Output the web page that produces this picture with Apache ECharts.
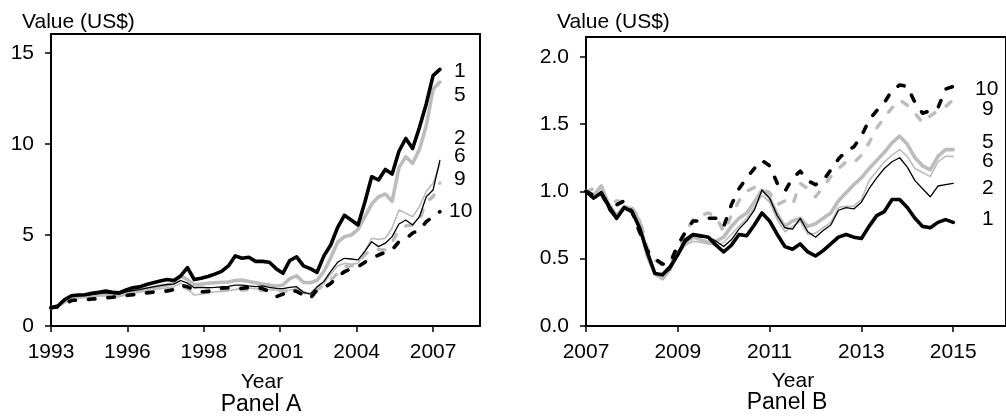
<!DOCTYPE html>
<html>
<head>
<meta charset="utf-8">
<script src="https://cdn.jsdelivr.net/npm/echarts@6/dist/echarts.min.js"></script>
<style>
  html, body { margin: 0; padding: 0; background: #fff; }
  #chart { width: 1006px; height: 418px; }
</style>
</head>
<body>
<div id="chart"></div>
<script>
// Panel A: quarterly values, 1993 Q1 .. 2007 Q2
const panelA_1  = [1.00,1.10,1.45,1.66, 1.70,1.72,1.80,1.85, 1.92,1.85,1.82,1.98, 2.10,2.15,2.28,2.38, 2.47,2.55,2.50,2.75, 3.20,2.55,2.62,2.72, 2.85,3.00,3.30,3.85, 3.72,3.78,3.55,3.55, 3.50,3.15,2.90,3.60, 3.80,3.30,3.15,2.95, 3.85,4.45,5.40,6.08, 5.82,5.55,6.80,8.20, 8.02,8.60,8.35,9.60, 10.30,9.75,10.90,12.20, 13.75,14.10];
const panelA_2  = [1.00,1.10,1.40,1.62, 1.65,1.68,1.72,1.78, 1.82,1.78,1.75,1.88, 1.95,2.00,2.08,2.15, 2.22,2.28,2.30,2.50, 2.35,2.10,2.12,2.10, 2.12,2.15,2.18,2.25, 2.25,2.20,2.16,2.20, 2.12,2.07,2.05,2.12, 2.16,1.85,1.75,2.15, 2.45,3.00,3.50,3.72, 3.68,3.63,4.10,4.63, 4.36,4.55,4.91,5.60, 5.82,5.55,6.00,7.10, 7.47,9.10];
const panelA_5  = [1.00,1.08,1.35,1.55, 1.58,1.62,1.66,1.70, 1.72,1.68,1.66,1.80, 1.92,1.98,2.05,2.12, 2.20,2.25,2.35,2.75, 2.55,2.25,2.30,2.35, 2.38,2.40,2.42,2.50, 2.52,2.45,2.38,2.30, 2.25,2.18,2.25,2.60, 2.75,2.40,2.38,2.50, 3.00,3.75,4.60,4.90, 5.00,5.30,6.00,6.70, 7.10,7.25,6.85,8.70, 9.30,8.94,9.70,11.00, 13.00,13.40];
const panelA_6  = [1.00,1.08,1.32,1.52, 1.55,1.58,1.60,1.65, 1.68,1.65,1.62,1.72, 1.80,1.85,1.92,1.98, 2.05,2.10,2.15,2.35, 2.05,1.70,1.75,1.82, 1.88,1.90,1.95,2.00, 2.07,2.08,2.05,2.02, 2.00,1.98,1.95,1.98, 2.05,1.85,1.80,2.10, 2.35,2.85,3.30,3.44, 3.40,3.44,4.10,4.82, 4.75,4.82,5.40,6.37, 6.20,6.00,6.55,7.40, 7.84,8.90];
const panelA_9  = [1.00,1.06,1.28,1.45, 1.48,1.50,1.55,1.58, 1.60,1.58,1.58,1.65, 1.72,1.78,1.85,1.90, 1.95,2.00,2.05,2.20, 2.05,1.80,1.82,1.88, 1.92,1.95,1.98,2.00, 1.98,2.00,1.98,1.95, 1.95,1.98,1.90,1.92, 1.98,1.85,1.70,1.98, 2.25,2.53,2.90,3.26, 3.30,3.50,3.90,4.25, 4.20,4.18,4.60,5.27, 5.50,5.55,5.82,6.83, 7.10,7.85];
const panelA_10 = [1.00,1.05,1.22,1.40, 1.43,1.45,1.48,1.50, 1.55,1.58,1.62,1.68, 1.72,1.76,1.82,1.86, 1.88,1.92,2.00,2.25, 2.15,2.00,1.88,1.90, 2.00,2.08,2.10,2.05, 2.07,2.12,2.16,2.05, 1.90,1.61,1.75,1.98, 1.90,1.70,1.52,1.98, 2.10,2.34,2.70,2.98, 3.15,3.26,3.50,3.72, 3.90,4.05,4.18,4.63, 4.80,5.10,5.27,5.73, 6.00,6.28];

// Panel B: bi-monthly values, 2007 .. 2015
const panelB_1  = [1.00,0.95,0.99,0.89,0.80,0.88,0.85,0.73,0.55,0.39,0.38,0.44,0.53,0.64,0.68,0.67,0.66,0.60,0.55,0.60,0.68,0.67,0.75,0.84,0.78,0.68,0.59,0.57,0.61,0.55,0.52,0.56,0.61,0.66,0.68,0.66,0.65,0.74,0.82,0.85,0.94,0.94,0.88,0.80,0.74,0.73,0.77,0.79,0.77];
const panelB_2  = [1.00,0.95,1.00,0.86,0.79,0.87,0.86,0.74,0.54,0.39,0.38,0.42,0.52,0.62,0.67,0.66,0.66,0.63,0.59,0.64,0.72,0.78,0.86,1.01,0.95,0.82,0.73,0.72,0.80,0.70,0.66,0.71,0.75,0.86,0.88,0.87,0.92,1.02,1.10,1.17,1.22,1.25,1.18,1.08,1.02,0.96,1.04,1.05,1.06];
const panelB_5  = [1.00,0.97,1.04,0.90,0.82,0.89,0.87,0.78,0.52,0.39,0.35,0.42,0.54,0.62,0.66,0.64,0.62,0.63,0.66,0.74,0.80,0.84,0.92,1.01,0.95,0.83,0.74,0.78,0.80,0.74,0.76,0.80,0.84,0.93,0.99,1.05,1.10,1.17,1.23,1.29,1.36,1.41,1.35,1.25,1.19,1.16,1.26,1.31,1.31];
const panelB_6  = [1.00,0.96,1.03,0.88,0.80,0.87,0.86,0.75,0.53,0.39,0.36,0.42,0.52,0.60,0.63,0.62,0.61,0.60,0.62,0.68,0.74,0.80,0.88,0.97,0.92,0.79,0.70,0.74,0.78,0.68,0.69,0.73,0.77,0.88,0.89,0.89,0.94,1.08,1.15,1.22,1.27,1.31,1.26,1.17,1.14,1.11,1.22,1.26,1.26];
const panelB_9  = [1.00,1.02,1.00,0.90,0.93,0.92,0.88,0.80,0.58,0.49,0.45,0.47,0.55,0.70,0.79,0.82,0.84,0.81,0.70,0.82,0.93,1.00,1.03,1.02,0.99,0.90,0.93,0.90,1.06,1.02,0.96,1.03,1.11,1.17,1.22,1.21,1.27,1.36,1.47,1.55,1.62,1.68,1.64,1.58,1.51,1.56,1.60,1.63,1.68];
const panelB_10 = [1.00,0.97,0.98,0.89,0.90,0.93,0.85,0.70,0.56,0.50,0.46,0.47,0.60,0.70,0.78,0.78,0.80,0.80,0.74,0.90,1.02,1.10,1.17,1.23,1.19,1.06,1.00,1.10,1.15,1.08,1.05,1.08,1.16,1.24,1.30,1.33,1.41,1.53,1.60,1.66,1.75,1.79,1.78,1.66,1.58,1.60,1.62,1.76,1.78];

// time stamps of the samples
const yearsA = panelA_1.map((_, i) => 1993 + i / 4);
const yearsB = panelB_1.map((_, i) => 2007 + i / 6);

// tick positions and labels
const xTicksA = [1993, 1995.8, 1998.6, 2001.4, 2004.2, 2007.0];
const xLabelsA = ['1993', '1996', '1998', '2001', '2004', '2007'];
const yTicksA = [0, 5, 10, 15];
const xTicksB = [2007, 2009, 2011, 2013, 2015];
const yTicksB = [0, 0.5, 1.0, 1.5, 2.0];

const GRAY = '#bcbcbc';
const FONT = "'Liberation Sans', Arial, sans-serif";

const styles = {
  '1':  {color: '#000', width: 3.6, type: 'solid', z: 6},
  '2':  {color: '#000', width: 1.3, type: 'solid', z: 5},
  '5':  {color: GRAY, width: 3.6, type: 'solid', z: 3},
  '6':  {color: GRAY, width: 1.6, type: 'solid', z: 2},
  '9':  {color: GRAY, width: 3.4, type: [6.5, 13], z: 1},
  '10': {color: '#000', width: 3.6, type: [6.5, 13], z: 4}
};

function mkSeries(name, years, vals, idx) {
  const s = styles[name];
  return {
    name: name + (idx ? 'B' : 'A'),
    type: 'line',
    xAxisIndex: idx,
    yAxisIndex: idx,
    data: years.map((t, i) => [t, vals[i]]),
    showSymbol: false,
    symbol: 'none',
    z: s.z,
    lineStyle: {color: s.color, width: s.width, type: s.type, cap: 'round', join: 'round'},
    animation: false
  };
}

function mkX(idx, min, max, ticks, fmt) {
  return {
    type: 'value', gridIndex: idx, min: min, max: max,
    axisLine: {show: true, onZero: false, lineStyle: {color: '#000', width: 2}},
    axisTick: {show: true, customValues: ticks, length: 6, lineStyle: {color: '#000', width: 1.5}},
    axisLabel: {customValues: ticks, formatter: fmt, margin: 16, fontSize: 21, color: '#000', fontFamily: FONT},
    splitLine: {show: false}
  };
}

function mkY(idx, max, ticks, fmt) {
  return {
    type: 'value', gridIndex: idx, min: 0, max: max,
    axisLine: {show: true, onZero: false, lineStyle: {color: '#000', width: 2}},
    axisTick: {show: true, customValues: ticks, length: 6, lineStyle: {color: '#000', width: 1.5}},
    axisLabel: {customValues: ticks, formatter: fmt, margin: 17, fontSize: 21, color: '#000', fontFamily: FONT},
    splitLine: {show: false}
  };
}

function txt(text, x, y, align, size) {
  return {
    type: 'text', x: x, y: y, silent: true,
    style: {text: text, fill: '#000', font: (size || 21) + 'px ' + FONT, textAlign: align || 'left', textVerticalAlign: 'middle'}
  };
}

const chart = echarts.init(document.getElementById('chart'), null, {renderer: 'canvas'});

const option = {
  animation: false,
  backgroundColor: '#fff',
  textStyle: {fontFamily: FONT},
  grid: [
    {left: 51, top: 34, width: 429, height: 292, show: true, borderColor: '#000', borderWidth: 2},
    {left: 586, top: 37, width: 440, height: 289, show: true, borderColor: '#000', borderWidth: 2}
  ],
  xAxis: [
    mkX(0, 1993, 2008.72, xTicksA, v => {
      let best = 0;
      xTicksA.forEach((t, i) => { if (Math.abs(t - v) < Math.abs(xTicksA[best] - v)) best = i; });
      return xLabelsA[best];
    }),
    mkX(1, 2007, 2016.15, xTicksB, v => String(Math.round(v)))
  ],
  yAxis: [
    mkY(0, 16.04, yTicksA, v => String(v)),
    mkY(1, 2.147, yTicksB, v => v.toFixed(1))
  ],
  series: [
    mkSeries('6', yearsA, panelA_6, 0),
    mkSeries('9', yearsA, panelA_9, 0),
    mkSeries('5', yearsA, panelA_5, 0),
    mkSeries('10', yearsA, panelA_10, 0),
    mkSeries('2', yearsA, panelA_2, 0),
    mkSeries('1', yearsA, panelA_1, 0),
    mkSeries('6', yearsB, panelB_6, 1),
    mkSeries('9', yearsB, panelB_9, 1),
    mkSeries('5', yearsB, panelB_5, 1),
    mkSeries('10', yearsB, panelB_10, 1),
    mkSeries('2', yearsB, panelB_2, 1),
    mkSeries('1', yearsB, panelB_1, 1)
  ],
  graphic: [
    txt('Value (US$)', 22, 22),
    txt('Year', 262, 382, 'center'),
    txt('Panel A', 261, 405, 'center', 23),
    txt('1', 454, 71),
    txt('5', 454, 95),
    txt('2', 454, 138),
    txt('6', 454, 156),
    txt('9', 454, 179),
    txt('10', 449, 211),

    txt('Value (US$)', 557, 22),
    txt('Year', 793, 381, 'center'),
    txt('Panel B', 787, 403, 'center', 23),
    txt('10', 975, 89),
    txt('9', 982, 109),
    txt('5', 982, 142),
    txt('6', 982, 161),
    txt('2', 982, 188),
    txt('1', 982, 219)
  ]
};

chart.setOption(option);
</script>
</body>
</html>
